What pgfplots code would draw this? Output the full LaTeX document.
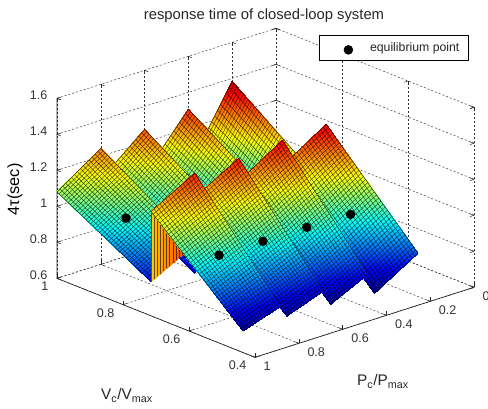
\documentclass[border=0pt]{standalone}
\usepackage{fontspec}
\setmainfont{Liberation Sans}
\usepackage{pgfplots}
\pgfplotsset{compat=1.18}
\usepgfplotslibrary{patchplots}
\usetikzlibrary{calc}
\newcommand{\tile}[4]{%
  \addplot3[forget plot, patch, patch type=bilinear, shader=interp, point meta=z] coordinates {(#1) (#2) (#3) (#4)};
  \coordinate (A) at (axis cs:#1); \coordinate (B) at (axis cs:#2);
  \coordinate (C) at (axis cs:#3); \coordinate (D) at (axis cs:#4);
  \draw[black,line width=.42pt,opacity=.62] \foreach \s in {1,...,41} { ($(A)!\s/42!(D)$) -- ($(B)!\s/42!(C)$) };
  \draw[black,line width=.42pt,opacity=.62] \foreach \s in {1,...,14} { ($(A)!\s/15!(B)$) -- ($(D)!\s/15!(C)$) };
  \draw[black,line width=.4pt,opacity=.8] (A) -- (B) -- (C) -- (D) -- cycle;
}
\begin{document}
\begin{tikzpicture}
\useasboundingbox (0,0) rectangle (366pt,306.75pt);
\begin{axis}[
  at={(355.5pt,91.25pt)}, anchor=origin,
  y dir=reverse,
  x={(-164.25pt,-52.5pt)}, y={(247.5pt,-98.75pt)}, z={(0pt,135pt)},
  xmin=0,xmax=1,ymin=0.4,ymax=1,zmin=0.6,zmax=1.6,
  xtick={0,0.2,0.4,0.6,0.8,1}, ytick={0.4,0.6,0.8,1}, ztick={0.6,0.8,1,1.2,1.4,1.6},
  xticklabels={0,0.2,0.4,0.6,0.8,1}, yticklabels={0.4,0.6,0.8,1}, zticklabels={0.6,0.8,1,1.2,1.4,1.6},
  grid=major, grid style={dash pattern=on 1.5pt off 1.5pt,black!80,line width=.35pt},
  3d box=background,
  tick align=inside, major tick length=3pt, tick style={black!85,line width=.4pt},
  axis line style={draw=none},
  ticklabel style={font=\fontsize{9.4}{10}\selectfont,text=black!80},
  xticklabel style={anchor=west,xshift=3pt,yshift=-6.5pt},
  yticklabel style={anchor=east,xshift=-3pt,yshift=-6.2pt},
  zticklabel style={anchor=east,xshift=-3.75pt,yshift=2.6pt},
  colormap/jet, point meta min=0.69, point meta max=1.42,
  clip=false,
  title={response time of closed-loop system},
  title style={at={(axis cs:0.0548,1,1.699)},anchor=center,yshift=-6.75pt,font=\fontsize{11.1}{12}\selectfont,text=black!85},
  xlabel={P\textsubscript{c}/P\textsubscript{max}},
  ylabel={V\textsubscript{c}/V\textsubscript{max}},
  zlabel={4τ(sec)},
  xlabel style={at={(axis cs:0.828,0.1263,0.6)},anchor=center,font=\fontsize{11.5}{12}\selectfont,text=black!85},
  ylabel style={at={(axis cs:1.566,0.4123,0.6)},anchor=center,font=\fontsize{11.5}{12}\selectfont,text=black!85},
  zlabel style={at={(axis cs:1.1918,1,1.169)},anchor=center,rotate=0,font=\fontsize{12.2}{12}\selectfont},
  legend style={at={(axis cs:0,0.415,1.99)},anchor=north east,draw=black,line width=.5pt,inner xsep=5pt,inner ysep=3.2pt,font=\fontsize{9.2}{10}\selectfont,text=black!85,cells={anchor=west}},
  legend image code/.code={\path (0pt,0pt) (30.5pt,0pt); \draw[#1,mark=*,mark size=3.3pt,draw=none,mark options={fill=black,draw=black}] plot coordinates {(16.5pt,-1.5pt)};},
]
\draw[black!85,line width=.5pt] (axis cs:1,1,1.6) -- (axis cs:1,1,0.6) -- (axis cs:1,0.4,0.6) -- (axis cs:0,0.4,0.6);
% back row, farthest first
\tile{0.4,1,0.98}{0.2,1,1.383}{0.2,0.715,1.0}{0.4,0.715,0.75}
\tile{0.6,1,1.02}{0.4,1,1.306}{0.4,0.715,0.96}{0.6,0.715,0.76}
\tile{0.8,1,1.07}{0.6,1,1.272}{0.6,0.715,0.93}{0.8,0.715,0.76}
\tile{1,1,1.08}{0.8,1,1.244}{0.8,0.715,0.92}{1,0.715,0.79}
% step between the two rows, coloured by its upper edge
\addplot3[forget plot, patch, patch type=bilinear, shader=interp, point meta=explicit] coordinates {
  (1,0.715,0.79) [1.18] (0.8,0.715,0.92) [1.314] (0.8,0.715,1.314) [1.314] (1,0.715,1.18) [1.18]};
\coordinate (A) at (axis cs:1,0.715,0.79); \coordinate (B) at (axis cs:0.8,0.715,0.92);
\coordinate (C) at (axis cs:0.8,0.715,1.314); \coordinate (D) at (axis cs:1,0.715,1.18);
\draw[black,line width=.5pt,opacity=.6] \foreach \s in {0,...,14} { ($(A)!\s/14!(B)$) -- ($(D)!\s/14!(C)$) };
% front row
\tile{0.4,0.715,1.2}{0.2,0.715,1.353}{0.2,0.437,0.84}{0.4,0.436,0.696}
\tile{0.6,0.715,1.19}{0.4,0.715,1.342}{0.4,0.456,0.787}{0.6,0.436,0.713}
\tile{0.8,0.715,1.18}{0.6,0.715,1.319}{0.6,0.458,0.77}{0.8,0.436,0.725}
\tile{1,0.715,1.18}{0.8,0.715,1.314}{0.8,0.455,0.765}{1,0.436,0.72}
\addplot3[only marks, mark=*, mark size=3.3pt, mark options={fill=black,draw=black}] coordinates {
  (0.9,0.857,1.0) (0.9,0.575,1.0) (0.7,0.575,1.0) (0.5,0.575,1.0) (0.3,0.575,0.994)};
\addlegendentry{equilibrium point}
\end{axis}
\end{tikzpicture}
\end{document}
